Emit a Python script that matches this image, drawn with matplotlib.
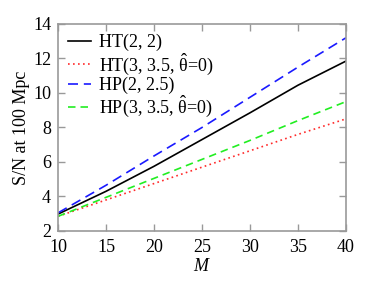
import matplotlib
matplotlib.use("Agg")
import matplotlib.pyplot as plt

plt.rcParams['font.family'] = ['Liberation Serif', 'DejaVu Serif']
plt.rcParams['mathtext.fontset'] = 'custom'
plt.rcParams['mathtext.rm'] = 'Liberation Serif'
plt.rcParams['mathtext.it'] = 'Liberation Serif:italic'

M = [10, 15, 20, 25, 30, 35, 40]
ht22 = [2.98, 4.3, 5.75, 7.3, 8.85, 10.45, 11.85]
ht335 = [2.85, 3.8, 4.75, 5.7, 6.65, 7.6, 8.5]
hp225 = [3.05, 4.65, 6.35, 8.0, 9.75, 11.5, 13.2]
hp335 = [2.85, 3.95, 5.05, 6.15, 7.25, 8.4, 9.5]

labels = ["HT(2, 2)", "HT(3, 3.5, $\\hat{\\mathrm{\\theta}}$=0)", "HP(2, 2.5)",
          "HP(3, 3.5, $\\hat{\\mathrm{\\theta}}$=0)"]

fig = plt.figure(figsize=(3.73, 2.89), dpi=100)
ax = fig.add_axes([0.1555, 0.2007, 0.772, 0.7163])

ax.plot(M, ht22, color='black', lw=1.2, label=labels[0])
ax.plot(M, ht335, color='#ff2a2a', lw=1.2, linestyle=(0, (1, 2)), label=labels[1])
ax.plot(M, hp225, color='#1a1aff', lw=1.2, linestyle=(0, (6, 3.5)), label=labels[2])
ax.plot(M, hp335, color='#22ee22', lw=1.2, linestyle=(0, (4.5, 3)), label=labels[3])

ax.set_xlim(10, 40)
ax.set_ylim(2, 14)
ax.set_xticks([10, 15, 20, 25, 30, 35, 40])
ax.set_yticks([2, 4, 6, 8, 10, 12, 14])
ax.tick_params(direction='in', top=True, right=True, length=5, width=1, color='#999999', labelsize=13)
ax.tick_params(axis='x', pad=6)
ax.tick_params(axis='y', pad=5)
for s in ax.spines.values():
    s.set_color('#999999')
    s.set_linewidth(1.2)

ax.set_xlabel("$M$", fontsize=13, labelpad=1)
ax.set_ylabel("S/N at 100 Mpc", fontsize=13, labelpad=2)

leg = ax.legend(loc='upper left', frameon=False, fontsize=13, handlelength=1.25,
                handletextpad=0.45, labelspacing=0.0, borderaxespad=0.15,
                bbox_to_anchor=(0.0, 1.0))

fig.savefig("out.png", dpi=100)
